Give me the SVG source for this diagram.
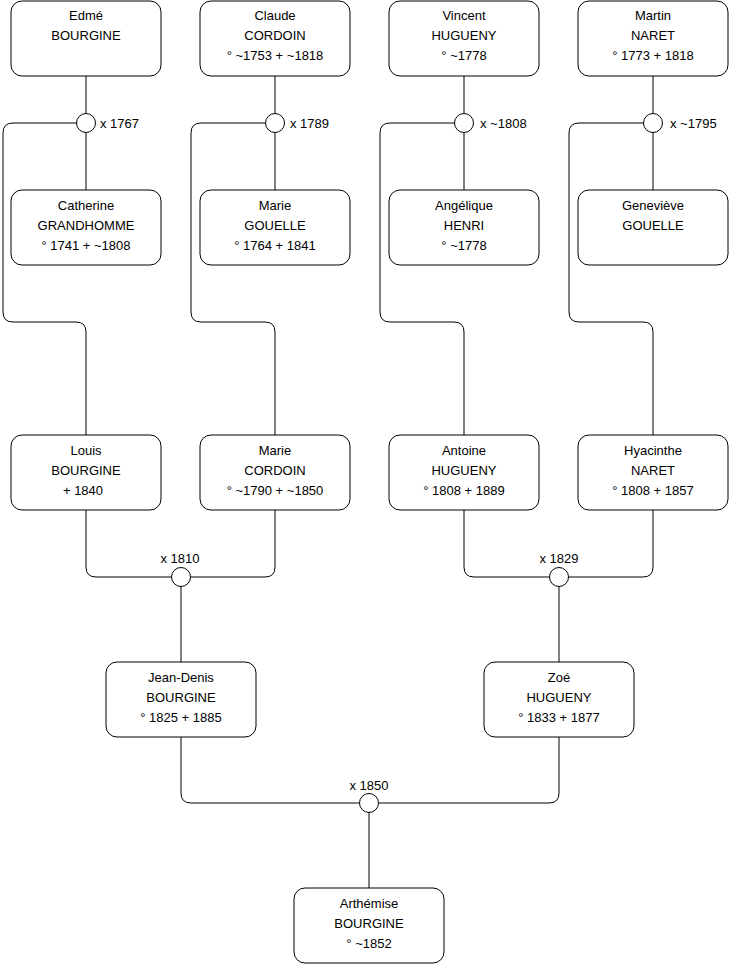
<svg xmlns="http://www.w3.org/2000/svg" width="740" height="975" viewBox="0 0 740 975">
<style>
.box{fill:#ffffff;stroke:#000000;stroke-width:1}
.wed{fill:#ffffff;stroke:#000000;stroke-width:1}
.ln{fill:none;stroke:#000000;stroke-width:1}
text{font-family:"Liberation Sans",Arial,sans-serif;font-size:13px;fill:#000000}
.c{text-anchor:middle}
</style>
<rect width="740" height="975" fill="#ffffff"/>
<g id="connectors">
<path class="ln" d="M86,76V113.5M86,132.5V190"/>
<path class="ln" d="M275,76V113.5M275,132.5V190"/>
<path class="ln" d="M464,76V113.5M464,132.5V190"/>
<path class="ln" d="M653,76V113.5M653,132.5V190"/>
<path class="ln" d="M76.5,123H13Q3,123 3,133V312Q3,322 13,322H76Q86,322 86,332V435"/>
<path class="ln" d="M265.5,123H201Q191,123 191,133V312Q191,322 201,322H265Q275,322 275,332V435"/>
<path class="ln" d="M454.5,123H390Q380,123 380,133V312Q380,322 390,322H454Q464,322 464,332V435"/>
<path class="ln" d="M643.5,123H579Q569,123 569,133V312Q569,322 579,322H643Q653,322 653,332V435"/>
<path class="ln" d="M86,510V567Q86,577 96,577H171.5"/>
<path class="ln" d="M275,510V567Q275,577 265,577H190.5"/>
<path class="ln" d="M181,586.5V662"/>
<path class="ln" d="M464,510V567Q464,577 474,577H549.5"/>
<path class="ln" d="M653,510V567Q653,577 643,577H568.5"/>
<path class="ln" d="M559,586.5V662"/>
<path class="ln" d="M181,737V793Q181,803 191,803H359.5"/>
<path class="ln" d="M559,737V793Q559,803 549,803H378.5"/>
<path class="ln" d="M369,812.5V888"/>
</g>
<g id="m1767"><circle class="wed" cx="86" cy="123" r="9.5"/><text x="100" y="128">x 1767</text></g>
<g id="m1789"><circle class="wed" cx="275" cy="123" r="9.5"/><text x="290" y="128">x 1789</text></g>
<g id="m1808"><circle class="wed" cx="464" cy="123" r="9.5"/><text x="480" y="128">x ~1808</text></g>
<g id="m1795"><circle class="wed" cx="653" cy="123" r="9.5"/><text x="670" y="128">x ~1795</text></g>
<g id="m1810"><circle class="wed" cx="181" cy="577" r="9.5"/><text class="c" x="180" y="563">x 1810</text></g>
<g id="m1829"><circle class="wed" cx="559" cy="577" r="9.5"/><text class="c" x="559" y="563">x 1829</text></g>
<g id="m1850"><circle class="wed" cx="369" cy="803" r="9.5"/><text class="c" x="369" y="790">x 1850</text></g>
<g id="edme"><rect class="box" x="11" y="1" width="150" height="75" rx="11"/><text class="c" x="86" y="20">Edmé</text><text class="c" x="86" y="40">BOURGINE</text></g>
<g id="claude"><rect class="box" x="200" y="1" width="150" height="75" rx="11"/><text class="c" x="275" y="20">Claude</text><text class="c" x="275" y="40">CORDOIN</text><text class="c" x="275" y="60">° ~1753 + ~1818</text></g>
<g id="vincent"><rect class="box" x="389" y="1" width="150" height="75" rx="11"/><text class="c" x="464" y="20">Vincent</text><text class="c" x="464" y="40">HUGUENY</text><text class="c" x="464" y="60">° ~1778</text></g>
<g id="martin"><rect class="box" x="578" y="1" width="150" height="75" rx="11"/><text class="c" x="653" y="20">Martin</text><text class="c" x="653" y="40">NARET</text><text class="c" x="653" y="60">° 1773 + 1818</text></g>
<g id="catherine"><rect class="box" x="11" y="190" width="150" height="75" rx="11"/><text class="c" x="86" y="210">Catherine</text><text class="c" x="86" y="230">GRANDHOMME</text><text class="c" x="86" y="250">° 1741 + ~1808</text></g>
<g id="marieg"><rect class="box" x="200" y="190" width="150" height="75" rx="11"/><text class="c" x="275" y="210">Marie</text><text class="c" x="275" y="230">GOUELLE</text><text class="c" x="275" y="250">° 1764 + 1841</text></g>
<g id="angelique"><rect class="box" x="389" y="190" width="150" height="75" rx="11"/><text class="c" x="464" y="210">Angélique</text><text class="c" x="464" y="230">HENRI</text><text class="c" x="464" y="250">° ~1778</text></g>
<g id="genevieve"><rect class="box" x="578" y="190" width="150" height="75" rx="11"/><text class="c" x="653" y="210">Geneviève</text><text class="c" x="653" y="230">GOUELLE</text></g>
<g id="louis"><rect class="box" x="11" y="435" width="150" height="75" rx="11"/><text class="c" x="86" y="455">Louis</text><text class="c" x="86" y="475">BOURGINE</text><text class="c" x="83" y="495">+ 1840</text></g>
<g id="mariec"><rect class="box" x="200" y="435" width="150" height="75" rx="11"/><text class="c" x="275" y="455">Marie</text><text class="c" x="275" y="475">CORDOIN</text><text class="c" x="275" y="495">° ~1790 + ~1850</text></g>
<g id="antoine"><rect class="box" x="389" y="435" width="150" height="75" rx="11"/><text class="c" x="464" y="455">Antoine</text><text class="c" x="464" y="475">HUGUENY</text><text class="c" x="464" y="495">° 1808 + 1889</text></g>
<g id="hyacinthe"><rect class="box" x="578" y="435" width="150" height="75" rx="11"/><text class="c" x="653" y="455">Hyacinthe</text><text class="c" x="653" y="475">NARET</text><text class="c" x="653" y="495">° 1808 + 1857</text></g>
<g id="jeandenis"><rect class="box" x="106" y="662" width="150" height="75" rx="11"/><text class="c" x="181" y="682">Jean-Denis</text><text class="c" x="181" y="702">BOURGINE</text><text class="c" x="181" y="722">° 1825 + 1885</text></g>
<g id="zoe"><rect class="box" x="484" y="662" width="150" height="75" rx="11"/><text class="c" x="559" y="682">Zoé</text><text class="c" x="559" y="702">HUGUENY</text><text class="c" x="559" y="722">° 1833 + 1877</text></g>
<g id="arthemise"><rect class="box" x="294" y="888" width="150" height="75" rx="11"/><text class="c" x="369" y="908">Arthémise</text><text class="c" x="369" y="928">BOURGINE</text><text class="c" x="369" y="948">° ~1852</text></g>
</svg>
